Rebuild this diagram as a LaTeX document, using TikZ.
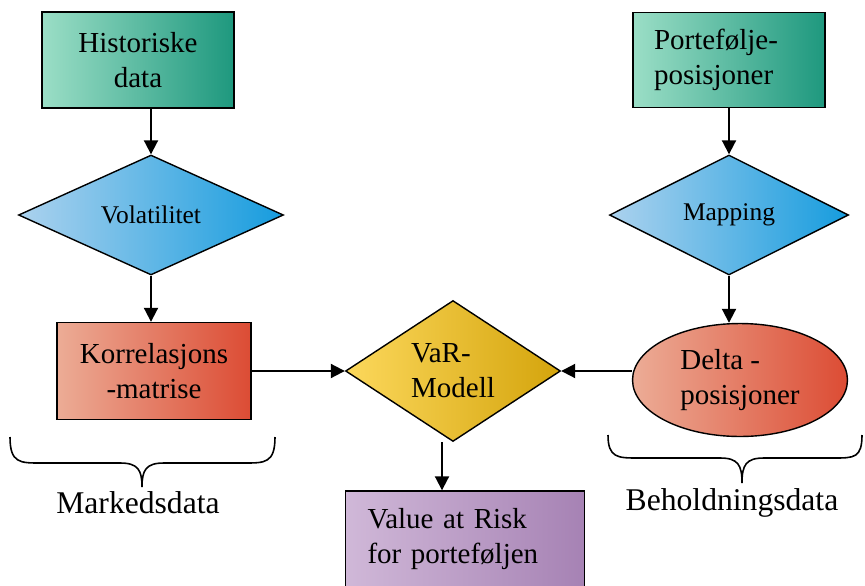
\documentclass[tikz,border=0pt]{standalone}
\usepackage{fontspec}
\setmainfont{Liberation Serif}
\usepackage{tikz}
\usetikzlibrary{shapes.geometric, arrows.meta}

\definecolor{tealL}{RGB}{155,222,198}
\definecolor{tealR}{RGB}{30,152,126}
\definecolor{blueL}{RGB}{172,210,238}
\definecolor{blueR}{RGB}{22,156,222}
\definecolor{redL}{RGB}{236,172,150}
\definecolor{redR}{RGB}{220,76,52}
\definecolor{goldL}{RGB}{252,216,92}
\definecolor{goldR}{RGB}{212,164,12}
\definecolor{lilaL}{RGB}{208,184,216}
\definecolor{lilaR}{RGB}{166,130,180}

\tikzset{
    box/.style={draw, line width=0.8pt, rectangle, inner sep=0pt,
        minimum width=3.84cm, minimum height=1.92cm,
        font=\fontsize{16.5}{20}\selectfont},
    datbox/.style={box, left color=tealL, right color=tealR},
    rhomb/.style={draw, line width=0.8pt, diamond, inner sep=0pt,
        left color=blueL, right color=blueR,
        font=\fontsize{14.5}{18}\selectfont},
    flow/.style={-{Triangle[length=0.28cm, width=0.28cm]}, line width=1.1pt},
    curly/.style={line width=0.9pt},
    tag/.style={font=\fontsize{18}{22}\selectfont}
}

\begin{document}
\begin{tikzpicture}[x=0.02cm, y=-0.02cm]
    \useasboundingbox (0,0) rectangle (865,585);

    % inputs
    \node[datbox, align=center] (hist) at (138,60) {Historiske\\data};
    \node[datbox, align=left, text width=3.0cm, inner xsep=0.42cm, minimum height=1.9cm] (port) at (729,60) {Portefølje-\\posisjoner};

    % processing steps
    \node[rhomb, minimum width=5.3cm, minimum height=2.4cm] (vol) at (151,215) {Volatilitet};
    \node[rhomb, minimum width=4.78cm, minimum height=2.4cm] (map) at (729,215) {Mapping};

    \node[box, left color=redL, right color=redR, align=center, minimum width=3.88cm, minimum height=1.94cm] (korr) at (154,371) {Korrelasjons\\-matrise};
    \node[draw, line width=0.8pt, ellipse, inner sep=0pt, minimum width=4.3cm, minimum height=2.26cm,
        left color=redL, right color=redR, align=left, font=\fontsize{16.5}{20}\selectfont] (delta) at (740,380) {Delta -\\posisjoner};

    \node[draw, line width=0.8pt, diamond, inner sep=0pt, minimum width=4.3cm, minimum height=2.82cm,
        left color=goldL, right color=goldR, align=left, font=\fontsize{16.5}{20}\selectfont] (var) at (453,371) {VaR-\\Modell};

    % result
    \node[box, left color=lilaL, right color=lilaR, align=left, text width=3.9cm, inner xsep=0.44cm] (value) at (465,539) {Value at Risk\\for porteføljen};

    % arrows
    \draw[flow] (vol.north |- hist.south) -- (vol.north);
    \draw[flow] (vol.south) -- (vol.south |- korr.north);
    \draw[flow] (port.south) -- (map.north);
    \draw[flow] (map.south) -- (map.south |- delta.north);
    \draw[flow] (korr.east) -- (var.west);
    \draw[flow] (var.east -| delta.west) -- (var.east);
    \draw[flow] ([xshift=-0.22cm]var.south) -- ([xshift=-0.22cm]var.south |- value.north);

    % braces
    \draw[curly] (10,437) .. controls (10,463) and (20,463) .. (40,463) -- (120,463)
        .. controls (138,463) and (142,470) .. (142,487)
        .. controls (142,470) and (146,463) .. (164,463) -- (245,463)
        .. controls (265,463) and (275,463) .. (275,437);
    \draw[curly] (608,435) .. controls (608,458) and (618,458) .. (638,458) -- (720,458)
        .. controls (738,458) and (742,465) .. (742,483)
        .. controls (742,465) and (746,458) .. (764,458) -- (834,458)
        .. controls (854,458) and (862,458) .. (862,435);

    \node[tag] (mark) at (138,503) {Markedsdata};
    \node[tag] (behold) at (732,503) {Beholdningsdata};
\end{tikzpicture}
\end{document}
